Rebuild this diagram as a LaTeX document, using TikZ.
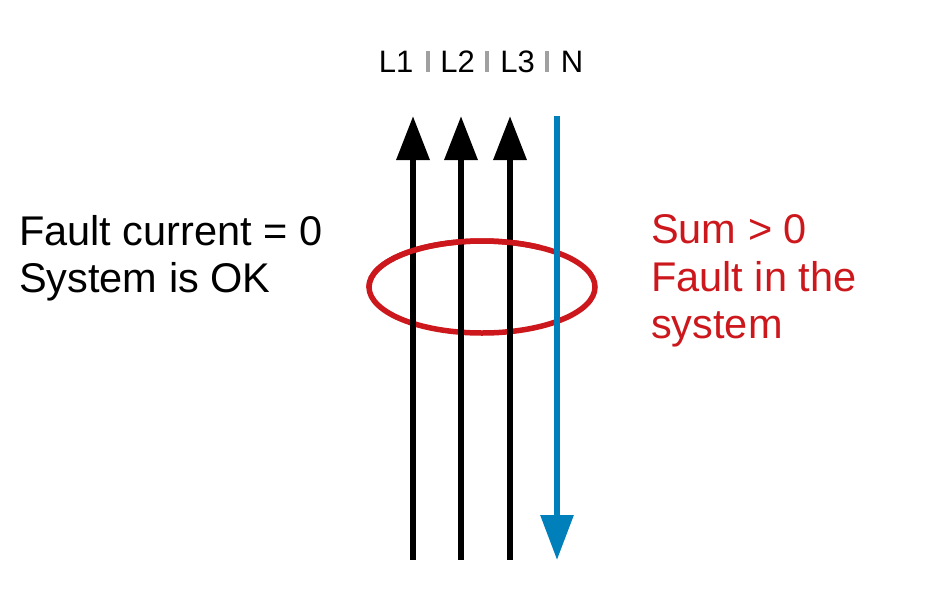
\documentclass[tikz,border=0pt]{standalone}
\usepackage{fontspec}
\setmainfont{Liberation Sans}
\usetikzlibrary{arrows.meta}
\definecolor{fred}{RGB}{204,24,28}
\definecolor{nblue}{RGB}{0,128,186}
\definecolor{sepgray}{RGB}{160,160,160}
\begin{document}
\begin{tikzpicture}[x=1pt,y=-1pt,
  phase/.style={line width=6.5pt, black, -{Triangle[length=44pt,width=32pt]}},
  neutral/.style={line width=6pt, nblue, -{Triangle[length=45pt,width=32pt]}},
  ring/.style={line width=5.5pt, fred},
  toplabel/.style={inner sep=0pt, anchor=base, font=\fontsize{31}{36}\selectfont},
  sepbar/.style={line width=3.5pt, sepgray},
  blacktext/.style={inner sep=0pt, anchor=base west, font=\fontsize{41.5}{47}\selectfont},
  redtext/.style={inner sep=0pt, anchor=base west, text=fred, font=\fontsize{41.5}{47}\selectfont}]
\useasboundingbox (0,0) rectangle (949,590);
% labels
\node[toplabel] (lab1) at (396,72) {L1};
\node[toplabel] (lab2) at (457.5,72) {L2};
\node[toplabel] (lab3) at (517.5,72) {L3};
\node[toplabel] (labn) at (572,72) {N};
\draw[sepbar] (428,51) -- (428,72);
\draw[sepbar] (487,51) -- (487,72);
\draw[sepbar] (547,51) -- (547,72);
% coordinates
\coordinate (l1b) at (413,560); \coordinate (l1t) at (413,116);
\coordinate (l2b) at (461,560); \coordinate (l2t) at (461,116);
\coordinate (l3b) at (510,560); \coordinate (l3t) at (510,116);
\coordinate (nt) at (557,116); \coordinate (nb) at (557,560);
\coordinate (rc) at (482,287);
% ring (under)
\draw[ring] (rc) ellipse [x radius=113, y radius=46];
% phases
\draw[phase] (l1b) -- (l1t);
\draw[phase] (l2b) -- (l2t);
\draw[phase] (l3b) -- (l3t);
% ring top over phases
\begin{scope}
\clip (340,200) rectangle (540,287);
\draw[ring] (rc) ellipse [x radius=113, y radius=46];
\end{scope}
% neutral
\draw[neutral] (nt) -- (nb);
% texts
\node[blacktext] (f1) at (19,245) {Fault current = 0};
\node[blacktext] (f2) at (19,292) {System is OK};
\node[redtext] (s1) at (651,243) {Sum > 0};
\node[redtext] (s2) at (651,291) {Fault in the};
\node[redtext] (s3) at (651,338) {system};
\end{tikzpicture}
\end{document}
